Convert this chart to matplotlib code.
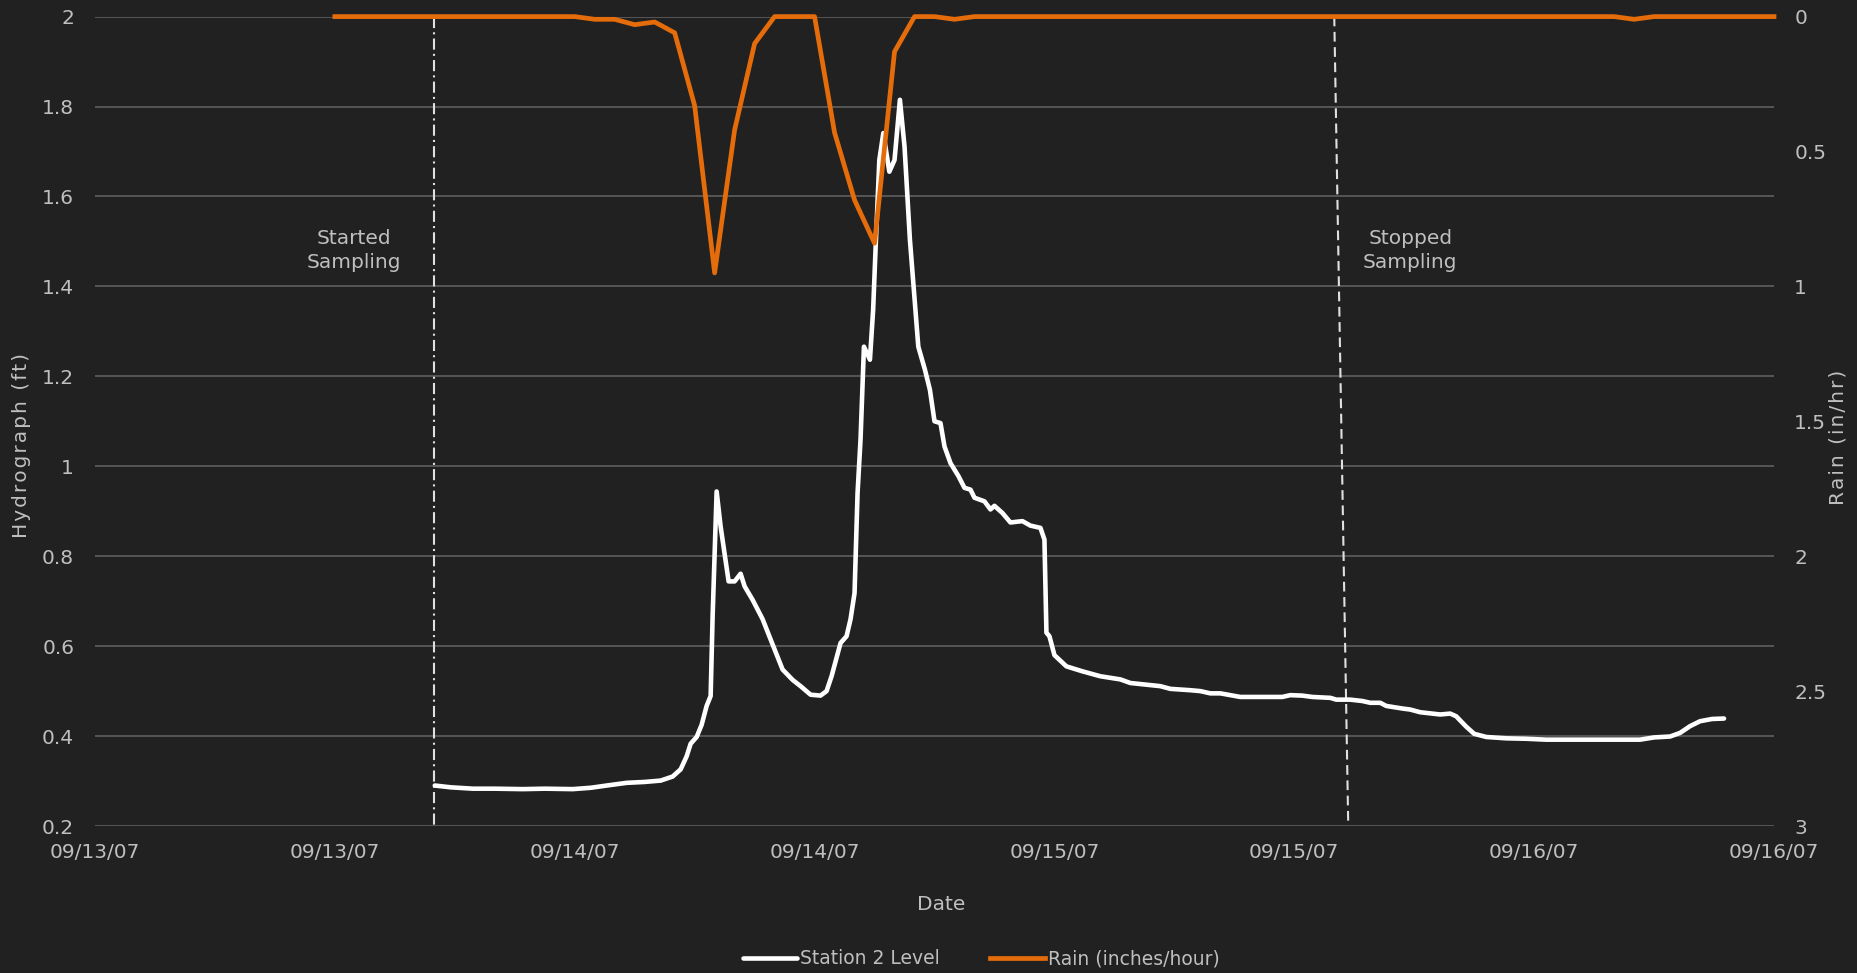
import matplotlib
matplotlib.use("Agg")
import matplotlib.pyplot as plt
import matplotlib.dates as mdates
import numpy as np
import pandas as pd

# ---------------- data ----------------
start_date = "2007-09-13 00:00"

# Station 2 level: hours after 09/13/07 00:00, level (ft)
level_hours = [17.0, 17.8, 18.9, 20.0, 21.4, 22.5, 23.9, 24.8, 25.6, 26.6, 27.5, 28.3,
               28.9, 29.3, 29.6, 29.8, 30.1, 30.35, 30.6, 30.8, 30.9, 31.1, 31.3, 31.7,
               32.0, 32.3, 32.5, 32.9, 33.4, 33.8, 34.4, 34.9, 35.3, 35.8, 36.3, 36.6,
               36.85, 37.3, 37.6, 37.8, 38.0, 38.15, 38.3, 38.47, 38.77, 38.93, 39.07,
               39.24, 39.44, 39.74, 40.0, 40.27, 40.5, 40.77, 41.19, 41.52, 41.77, 42.0,
               42.3, 42.5, 42.8, 43.2, 43.5, 43.8, 44.0, 44.5, 44.8, 45.0, 45.4, 45.8,
               46.4, 46.8, 47.3, 47.5, 47.6, 47.75, 48.0, 48.6, 49.4, 50.3, 51.3, 51.8,
               53.3, 53.8, 54.8, 55.3, 55.8, 56.3, 57.3, 59.4, 59.8, 60.4, 60.9, 61.8,
               62.1, 62.8, 63.4, 63.8, 64.3, 64.6, 65.45, 65.8, 66.3, 67.3, 67.8, 68.1,
               68.6, 69.0, 69.6, 70.6, 71.6, 72.6, 77.3, 78.0, 78.8, 79.3, 79.8, 80.3,
               80.9, 81.5]
level_ft = [0.290, 0.286, 0.283, 0.283, 0.282, 0.283, 0.282, 0.285, 0.290, 0.296, 0.298, 0.301,
            0.310, 0.326, 0.355, 0.383, 0.398, 0.425, 0.467, 0.489, 0.667, 0.944, 0.866, 0.744,
            0.744, 0.761, 0.733, 0.703, 0.660, 0.615, 0.548, 0.525, 0.511, 0.492, 0.490, 0.500,
            0.533, 0.607, 0.622, 0.660, 0.718, 0.940, 1.060, 1.266, 1.237, 1.348, 1.504,
            1.681, 1.741, 1.655, 1.681, 1.815, 1.711, 1.504, 1.266, 1.215, 1.170, 1.100,
            1.096, 1.044, 1.007, 0.978, 0.952, 0.948, 0.930, 0.922, 0.904, 0.912, 0.896, 0.875,
            0.878, 0.868, 0.863, 0.837, 0.630, 0.622, 0.580, 0.555, 0.544, 0.533, 0.526, 0.518,
            0.511, 0.505, 0.502, 0.500, 0.495, 0.495, 0.487, 0.487, 0.491, 0.490, 0.487, 0.485,
            0.481, 0.481, 0.478, 0.474, 0.474, 0.467, 0.461, 0.459, 0.453, 0.448, 0.450, 0.444,
            0.421, 0.405, 0.398, 0.395, 0.394, 0.392, 0.392, 0.397, 0.399, 0.407, 0.422, 0.433,
            0.438, 0.439]

# Rain: hourly from 09/13/07 12:00 to 09/16/07 12:00 (in/hr)
rain_hours = list(range(12, 85))
rain_in_hr = ([0.0] * 13 +                                   # 12..24
              [0.01, 0.01, 0.03, 0.02, 0.06, 0.33, 0.95, 0.42, 0.10,  # 25..33
               0.0, 0.0, 0.0, 0.43, 0.68, 0.84, 0.13, 0.0, 0.0, 0.01] +  # 34..43
              [0.0] * 33 +                                   # 44..76
              [0.01] +                                       # 77
              [0.0] * 7)                                     # 78..84

sampling_start_hour = 16.96
sampling_stop_hours = [62.0, 62.7]   # top, bottom (line is slightly slanted)

x_tick_hours = [0, 12, 24, 36, 48, 60, 72, 84]
left_ticks = [0.2, 0.4, 0.6, 0.8, 1.0, 1.2, 1.4, 1.6, 1.8, 2.0]
left_tick_labels = ["0.2", "0.4", "0.6", "0.8", "1", "1.2", "1.4", "1.6", "1.8", "2"]
right_ticks = [0, 0.5, 1, 1.5, 2, 2.5, 3]
right_tick_labels = ["0", "0.5", "1", "1.5", "2", "2.5", "3"]

# ---------------- style ----------------
BG = "#212121"
TXT = "#BFBFBF"
GRID = "#5A5A5A"
ORANGE = "#E46C0A"
WHITE = "#FFFFFF"
FS = 14.5

plt.rcParams["font.family"] = ["DejaVu Sans"]
plt.rcParams["lines.scale_dashes"] = False

base = pd.Timestamp(start_date)
to_dt = lambda hs: [base + pd.Timedelta(hours=h) for h in hs]

fig = plt.figure(figsize=(18.58, 9.73), dpi=100, facecolor=BG)
ax = fig.add_axes([95 / 1858, 1 - 826 / 973, (1774 - 95) / 1858, (826 - 16.6) / 973])
ax.set_facecolor(BG)

ax.set_xlim(base, base + pd.Timedelta(hours=84))
ax.set_ylim(0.2, 2.0)

ax.set_yticks(left_ticks)
ax.set_yticklabels(left_tick_labels)
ax.set_xticks(to_dt(x_tick_hours))
ax.xaxis.set_major_formatter(mdates.DateFormatter("%m/%d/%y"))
ax.yaxis.grid(True, color=GRID, lw=1.3)
ax.set_axisbelow(True)
for s in ax.spines.values():
    s.set_visible(False)
ax.tick_params(axis="both", length=0, labelsize=FS, labelcolor=TXT)
ax.tick_params(axis="y", pad=15)
ax.tick_params(axis="x", pad=12)

# sampling lines
ax.plot(to_dt([sampling_start_hour, sampling_start_hour]), [2.0, 0.2], color="#E0E0E0",
        lw=1.5, dashes=(8, 3, 1.5, 3), zorder=2)
ax.plot(to_dt(sampling_stop_hours), [2.0, 0.2], color="#E0E0E0", lw=1.5,
        dashes=(7, 4), zorder=2)

ax.text(to_dt([12.96])[0], 1.48, "Started\nSampling", color=TXT, fontsize=FS,
        ha="center", va="center", linespacing=1.3)
ax.text(to_dt([65.8])[0], 1.48, "Stopped\nSampling", color=TXT, fontsize=FS,
        ha="center", va="center", linespacing=1.3)

lvl_line, = ax.plot(to_dt(level_hours), level_ft, color=WHITE, lw=3.3,
                    solid_joinstyle="round", solid_capstyle="round", zorder=3,
                    label="Station 2 Level")

ax2 = ax.twinx()
ax2.set_ylim(3, 0)
ax2.set_yticks(right_ticks)
ax2.set_yticklabels(right_tick_labels)
for s in ax2.spines.values():
    s.set_visible(False)
ax2.tick_params(axis="y", length=0, labelsize=FS, labelcolor=TXT, pad=14.5)
rain_line, = ax2.plot(to_dt(rain_hours), rain_in_hr, color=ORANGE, lw=3.4,
                      solid_joinstyle="round", clip_on=False, zorder=4,
                      label="Rain (inches/hour)")

# axis titles (letter-spaced)
hair = "\u200a"
fig.text(22 / 1858, 1 - 445 / 973, hair.join("Hydrograph (ft)"), rotation=90,
         color=TXT, fontsize=FS, ha="center", va="center")
fig.text(1838 / 1858, 1 - 437 / 973, hair.join("Rain (in/hr)"), rotation=90,
         color=TXT, fontsize=FS, ha="center", va="center")
fig.text(941 / 1858, 1 - 904 / 973, "Date", color=TXT, fontsize=FS,
         ha="center", va="center")

leg = fig.legend(handles=[lvl_line, rain_line], loc="center",
                 bbox_to_anchor=(981 / 1858, 1 - 959 / 973), ncol=2, frameon=False,
                 fontsize=13.5, handlelength=2.9, handletextpad=0.15, columnspacing=2.7)
for t in leg.get_texts():
    t.set_color(TXT)

fig.savefig("out.png", dpi=100, facecolor=BG)
